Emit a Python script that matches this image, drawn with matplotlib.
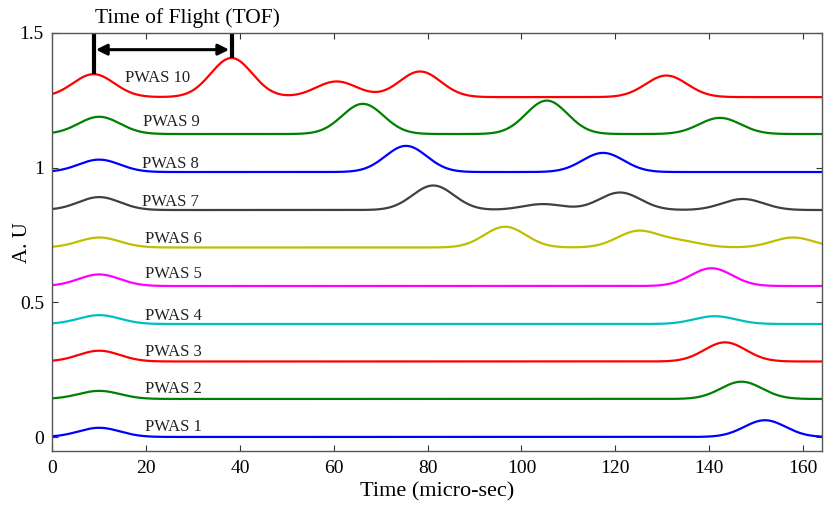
import numpy as np
import matplotlib
matplotlib.use("Agg")
import matplotlib.pyplot as plt
from matplotlib.ticker import FuncFormatter

# ---- data ----
labels = ["PWAS 1", "PWAS 2", "PWAS 3", "PWAS 4", "PWAS 5",
          "PWAS 6", "PWAS 7", "PWAS 8", "PWAS 9", "PWAS 10"]
colors = ["#0000ff", "#008000", "#ff0000", "#00bfbf", "#ff00ff",
          "#bfbf00", "#404040", "#0000ff", "#008000", "#ff0000"]
baselines = [0.001, 0.142, 0.281, 0.420, 0.561, 0.704, 0.843, 0.984, 1.125, 1.262]
peak_times = [
    [10.0, 151.9],
    [10.0, 146.9],
    [10.0, 143.4],
    [10.0, 141.2],
    [10.0, 140.5],
    [10.0, 96.5, 124.8, 134.0, 157.9],
    [10.0, 81.2, 104.6, 121.0, 147.2],
    [10.0, 75.4, 117.4],
    [10.0, 66.2, 105.4, 142.3],
    [8.8, 38.2, 60.6, 78.4, 130.9],
]
peak_heights = [
    [0.034, 0.062],
    [0.030, 0.064],
    [0.040, 0.071],
    [0.033, 0.029],
    [0.043, 0.066],
    [0.037, 0.077, 0.060, 0.022, 0.037],
    [0.048, 0.091, 0.022, 0.065, 0.041],
    [0.046, 0.097, 0.071],
    [0.064, 0.112, 0.124, 0.060],
    [0.085, 0.145, 0.058, 0.095, 0.080],
]
pulse_sigma = 4.4
x_ticks = [0, 20, 40, 60, 80, 100, 120, 140, 160]
y_ticks = [0, 0.5, 1, 1.5]

# ---- layout ----
label_x = [19.8, 19.8, 19.8, 19.8, 19.8, 19.8, 19.2, 19.2, 19.3, 15.5]
label_y = [0.038, 0.179, 0.316, 0.449, 0.607, 0.735, 0.872, 1.012, 1.170, 1.332]

serif = ["Liberation Serif", "DejaVu Serif"]
plt.rcParams["font.family"] = serif

fig = plt.figure(figsize=(8.26, 5.07), dpi=100)
ax = fig.add_axes([0.0633, 0.110, 0.9315, 0.825])

t = np.linspace(0, 164, 1641)
for i in range(len(labels)):
    y = np.full_like(t, baselines[i])
    for c, h in zip(peak_times[i], peak_heights[i]):
        y += h * np.exp(-0.5 * ((t - c) / pulse_sigma) ** 2)
    ax.plot(t, y, color=colors[i], lw=1.6, solid_joinstyle="round")
    ax.text(label_x[i], label_y[i], labels[i], fontsize=12, ha="left",
            va="center", color="#222222")

# TOF annotation from the PWAS 10 pulse peaks
top = 1.5
t1, t2 = peak_times[9][0], peak_times[9][1]
v1 = baselines[9] + peak_heights[9][0]
v2 = baselines[9] + peak_heights[9][1]
ax.plot([t1, t1], [v1, top], color="black", lw=3, clip_on=False, solid_capstyle="butt")
ax.plot([t2, t2], [v2, top], color="black", lw=3, clip_on=False, solid_capstyle="butt")
ax.annotate("", xy=(t1 + 0.5, 1.438), xytext=(t2 - 0.5, 1.438),
            arrowprops=dict(arrowstyle="<|-|>", color="black", lw=2.2,
                            mutation_scale=16, shrinkA=0, shrinkB=0))
ax.text((t1 + t2) / 2 + 5.3, 1.556, "Time of Flight (TOF)", fontsize=15.5,
        ha="center", va="center", clip_on=False)

ax.set_xlim(0, 164)
ax.set_ylim(-0.052, 1.5)
ax.set_xticks(x_ticks)
ax.set_yticks(y_ticks)
ax.yaxis.set_major_formatter(FuncFormatter(lambda v, p: "%g" % v))
ax.tick_params(direction="in", top=True, right=True, length=4, width=0.8,
               labelsize=14, colors="#333333", labelcolor="black", pad=6)
for s in ax.spines.values():
    s.set_color("#555555")
    s.set_linewidth(1.0)
ax.set_xlabel("Time (micro-sec)", fontsize=16, labelpad=4)
ax.set_ylabel("A. U", fontsize=15)
ax.yaxis.set_label_coords(-0.026, 0.5)

fig.savefig("out.png", dpi=100)
